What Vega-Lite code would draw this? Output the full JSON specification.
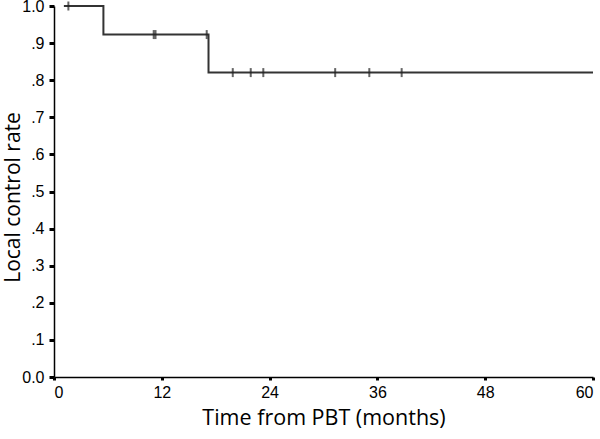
{
  "$schema": "https://vega.github.io/schema/vega-lite/v6.json",
  "autosize": {"type": "none"},
  "width": 539,
  "height": 371,
  "padding": {"left": 54, "top": 6, "right": 7, "bottom": 62},
  "background": "white",
  "config": {"view": {"stroke": null}},
  "datasets": {
    "curve": [
      {"time": 1.1, "rate": 1.0},
      {"time": 5.5, "rate": 0.923},
      {"time": 17.2, "rate": 0.8205},
      {"time": 60, "rate": 0.8205}
    ],
    "censor": [
      {"time": 1.6, "rate": 1.0},
      {"time": 11.1, "rate": 0.923},
      {"time": 11.3, "rate": 0.923},
      {"time": 17.0, "rate": 0.923},
      {"time": 19.9, "rate": 0.8205},
      {"time": 21.9, "rate": 0.8205},
      {"time": 23.3, "rate": 0.8205},
      {"time": 31.3, "rate": 0.8205},
      {"time": 35.1, "rate": 0.8205},
      {"time": 38.7, "rate": 0.8205}
    ]
  },
  "encoding": {
    "x": {
      "field": "time", "type": "quantitative",
      "scale": {"domain": [0, 60], "nice": false, "zero": false},
      "axis": {
        "values": [0, 12, 24, 36, 48, 60],
        "labelOverlap": false,
        "title": "Time from PBT (months)",
        "titleFont": "Open Sans", "titleFontSize": 21.5, "titleFontWeight": "normal", "titleColor": "black", "titlePadding": 7,
        "labelFont": "Liberation Sans", "labelFontSize": 16, "labelColor": "black", "labelPadding": 4,
        "domainColor": "black", "domainWidth": 1.5,
        "tickColor": "black", "tickSize": 3, "tickWidth": 3,
        "grid": false
      }
    },
    "y": {
      "field": "rate", "type": "quantitative",
      "scale": {"domain": [0, 1], "nice": false},
      "axis": {
        "values": [0, 0.1, 0.2, 0.3, 0.4, 0.5, 0.6, 0.7, 0.8, 0.9, 1.0],
        "labelOverlap": false,
        "labelExpr": "datum.value == 0 ? '0.0' : datum.value == 1 ? '1.0' : replace(format(datum.value, '.1f'), '0.', '.')",
        "title": "Local control rate",
        "titleFont": "Open Sans", "titleFontSize": 21, "titleFontWeight": "normal", "titleColor": "black",
        "titleX": -41, "titleY": 191, "titleBaseline": "middle",
        "labelFont": "Liberation Sans", "labelFontSize": 16, "labelColor": "black", "labelPadding": 5,
        "domainColor": "black", "domainWidth": 1.5,
        "tickColor": "black", "tickSize": 5, "tickWidth": 3,
        "grid": false
      }
    }
  },
  "layer": [
    {
      "data": {"name": "curve"},
      "mark": {"type": "line", "interpolate": "step-after", "color": "#333333", "strokeWidth": 2}
    },
    {
      "data": {"name": "censor"},
      "mark": {"type": "tick", "orient": "vertical", "color": "#222222", "size": 9, "thickness": 2}
    }
  ]
}
